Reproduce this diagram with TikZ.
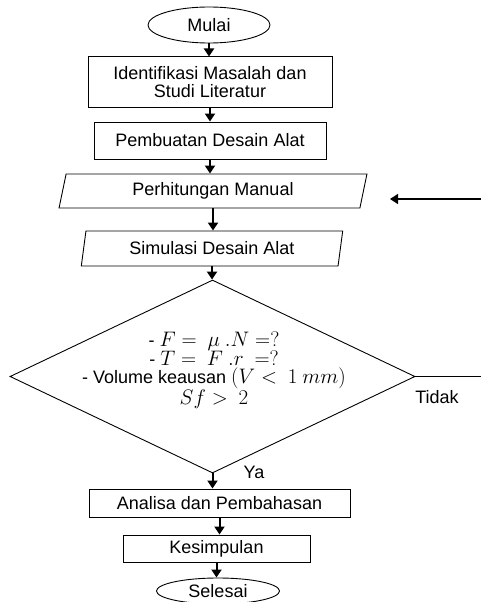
\RequirePackage{fix-cm}
\documentclass[tikz,border=0pt]{standalone}
\usepackage{amsmath,amssymb}
\usepackage{fontspec}
\setmainfont{Liberation Sans}
\DeclareMathSizes{18}{21}{15}{12}
\usetikzlibrary{arrows.meta,shapes.geometric}
\tikzstyle{arrow} = [line width=2pt,->,>={Triangle[length=8pt,width=10pt]}]
\tikzstyle{startstop} = [ellipse,draw,line width=0.9pt,inner sep=0pt]
\tikzstyle{process} = [rectangle,draw,line width=1pt,inner sep=0pt,align=center]
\tikzstyle{io} = [trapezium,trapezium left angle=77,trapezium right angle=103,
	trapezium stretches=true,draw,line width=0.9pt,inner sep=0pt]
\tikzstyle{decision} = [diamond,draw,line width=0.9pt,inner sep=0pt]

\begin{document}
\begin{tikzpicture}[x=1pt,y=-1pt,font=\fontsize{18}{18}\selectfont]
		\useasboundingbox (0,0) rectangle (481,602);
		
		% Draw the flow from top to bottom
		\node[startstop,minimum width=122pt,minimum height=36pt] (mulai) at (209,25) {Mulai};
		\node[process,minimum width=244pt,minimum height=50pt] (idf) at (210,82) {Identifikasi Masalah dan\\Studi Literatur};
		\node[process,minimum width=232pt,minimum height=37pt] (desain) at (210,140.5) {Pembuatan Desain Alat};
		\node[io,minimum width=308pt,minimum height=34pt] (hitung) at (213,191) {Perhitungan Manual};
		\node[io,minimum width=262pt,minimum height=35pt] (simulasi) at (212,248.5) {Simulasi Desain Alat};
		
		% the check
		\node[decision,minimum width=405pt,minimum height=193pt] (uji) at (212.5,376.5) {};
		\node[align=center,inner sep=0pt] (syarat) at (214,370) {- $F =\ \mu\ .N = ?$\\- $T =\ F\ .r\ = ?$\\- Volume keausan $(V <\ 1\ mm)$\\$Sf >\ 2$};
		
		\node[process,minimum width=261pt,minimum height=28pt] (analisa) at (219.5,503) {Analisa dan Pembahasan};
		\node[process,minimum width=187pt,minimum height=27pt] (kesimpulan) at (216.5,548.5) {Kesimpulan};
		\node[startstop,minimum width=123pt,minimum height=26pt] (selesai) at (218,591) {Selesai};
		
		% Draw the arrows
		\foreach \a/\b in {mulai/idf,idf/desain,desain/hitung,hitung/simulasi,simulasi/uji,uji/analisa,analisa/kesimpulan,kesimpulan/selesai}
			\draw[arrow] (\a.south) -- (\a.south |- \b.north);
		
		\node (ya) at (254,472) {Ya};
		\node (tidak) at (437,397) {Tidak};
		
		% back to the calculation
		\coordinate (kanan) at (481,376.5);
		\coordinate (atas) at (481,199);
		\coordinate (masuk) at (390,199);
		\draw[line width=1.4pt] (uji.east) -- (kanan);
		\draw[arrow,line width=1.4pt] (atas) -- (masuk);
\end{tikzpicture}
\end{document}
